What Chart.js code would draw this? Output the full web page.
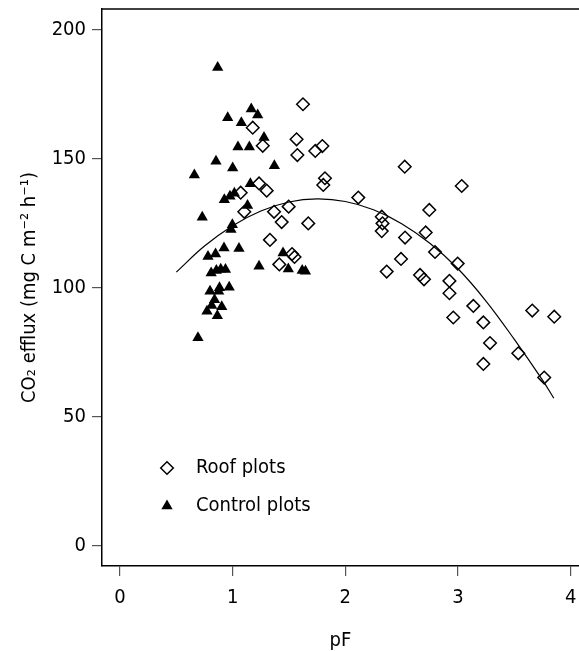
<!DOCTYPE html>
<html>
<head>
<meta charset="utf-8">
<script src="https://cdn.jsdelivr.net/npm/chart.js@4.4.1/dist/chart.umd.min.js"></script>
<style>
html,body{margin:0;padding:0;background:#fff;overflow:hidden;}
canvas{display:block;}
</style>
</head>
<body>
<canvas id="c" width="579" height="651"></canvas>
<script>
// ---- data ----
const seriesNames = ['Roof plots', 'Control plots'];
const xTitle = 'pF';
const yTitle = 'CO₂ efflux (mg C m⁻² h⁻¹)';
const xTicks = [0, 1, 2, 3, 4];
const yTicks = [0, 50, 100, 150, 200];

const roofX = [1.624, 1.178, 1.567, 1.267, 1.574, 1.733, 1.796, 2.527, 1.819, 1.804,
               3.033, 1.234, 1.071, 1.302, 2.115, 1.103, 1.367, 1.497, 1.435, 1.671,
               1.331, 1.414, 1.527, 1.549, 2.323, 2.330, 2.323, 2.745, 2.713, 2.530,
               2.796, 2.494, 2.367, 2.997, 2.663, 2.698, 2.924, 2.924, 3.136, 2.958,
               3.225, 3.659, 3.854, 3.284, 3.535, 3.225, 3.765];
const roofY = [171.2, 162.1, 157.6, 155.1, 151.5, 153.1, 155.0, 147.0, 142.5, 139.9,
               139.5, 140.5, 136.9, 137.7, 135.0, 129.5, 129.5, 131.5, 125.5, 125.0,
               118.6, 109.1, 113.1, 112.0, 127.6, 125.0, 122.0, 130.2, 121.5, 119.5,
               113.9, 111.2, 106.3, 109.4, 105.0, 103.3, 102.7, 97.9, 93.0, 88.5,
               86.6, 91.2, 88.8, 78.6, 74.6, 70.5, 65.2];

const controlX = [0.867, 1.165, 1.222, 0.956, 1.077, 1.278, 1.047, 1.148, 0.852, 1.000,
                  1.370, 0.660, 1.157, 0.926, 0.976, 1.015, 1.132, 0.730, 0.997, 0.985,
                  0.923, 1.056, 0.781, 0.848, 1.447, 1.234, 1.494, 1.617, 1.646, 0.809,
                  0.855, 0.894, 0.936, 0.799, 0.883, 0.876, 0.969, 0.839, 0.814, 0.903,
                  0.772, 0.864, 0.692];
const controlY = [185.5, 169.4, 167.0, 166.0, 164.0, 158.3, 154.6, 154.6, 149.1, 146.5,
                  147.4, 143.8, 140.4, 134.2, 135.5, 136.7, 131.9, 127.4, 124.5, 122.6,
                  115.5, 115.3, 112.2, 113.1, 113.5, 108.4, 107.3, 106.7, 106.4, 105.8,
                  106.7, 107.2, 107.1, 98.7, 100.0, 98.7, 100.2, 95.4, 93.2, 92.7,
                  90.9, 89.2, 80.6];

// fitted curve at these pF values
const fitX = [0.5, 0.75, 1.0, 1.25, 1.5, 1.75, 2.0, 2.25, 2.5, 2.75, 3.0, 3.25, 3.5, 3.75, 3.85];
const fitY = [106.1, 116.2, 124.1, 129.8, 133.3, 134.5, 133.5, 130.3, 124.9, 117.3, 107.4, 94.8, 80.0, 64.2, 57.2];

// ---- chart ----
const FONT = '"DejaVu Sans Condensed", "DejaVu Sans", sans-serif';
const pts = (xs, ys) => xs.map((x, i) => ({x: x, y: ys[i]}));
const noPad = () => ({left: 0, top: 0, right: 0, bottom: 0});

const frameAndLegend = {
  id: 'frameAndLegend',
  afterDatasetsDraw(chart) {
    const {ctx, chartArea: a} = chart;
    ctx.save();
    ctx.strokeStyle = '#000';
    ctx.lineWidth = 1.5;
    ctx.beginPath();
    ctx.moveTo(a.left, a.top);
    ctx.lineTo(a.right + 2, a.top);
    ctx.stroke();
    ctx.restore();
  },
  afterDraw(chart) {
    const ctx = chart.ctx;
    const items = [
      {ds: chart.data.datasets[1], y: 468},
      {ds: chart.data.datasets[2], y: 506}
    ];
    ctx.save();
    items.forEach(it => {
      const ds = it.ds;
      const opts = {
        pointStyle: ds.pointStyle,
        radius: ds.pointRadius,
        rotation: 0,
        borderWidth: ds.pointBorderWidth
      };
      ctx.fillStyle = ds.pointBackgroundColor;
      ctx.strokeStyle = ds.pointBorderColor;
      ctx.lineWidth = ds.pointBorderWidth;
      Chart.helpers.drawPoint(ctx, opts, 167, it.y);
      ctx.fillStyle = '#000';
      ctx.font = '20px ' + FONT;
      ctx.textAlign = 'left';
      ctx.textBaseline = 'middle';
      ctx.fillText(ds.label, 196, it.y);
    });
    ctx.restore();
  }
};

new Chart(document.getElementById('c'), {
  type: 'scatter',
  data: {
    datasets: [
      {
        label: 'fit',
        type: 'line',
        data: pts(fitX, fitY),
        borderColor: '#000',
        borderWidth: 1.2,
        pointRadius: 0,
        tension: 0.4,
        fill: false,
        order: 0
      },
      {
        label: seriesNames[0],
        data: pts(roofX, roofY),
        pointStyle: 'rectRot',
        pointRadius: 6.3,
        pointBorderWidth: 1.5,
        pointBorderColor: '#000',
        pointBackgroundColor: 'rgba(255,255,255,0)',
        order: 2
      },
      {
        label: seriesNames[1],
        data: pts(controlX, controlY),
        pointStyle: 'triangle',
        pointRadius: 6.5,
        pointBorderWidth: 0,
        pointBorderColor: '#000',
        pointBackgroundColor: '#000',
        order: 1
      }
    ]
  },
  options: {
    responsive: false,
    devicePixelRatio: 1,
    animation: false,
    layout: {autoPadding: false, padding: {top: 9, left: 0, right: 0, bottom: 0}},
    plugins: {legend: {display: false}, tooltip: {enabled: false}},
    scales: {
      x: {
        type: 'linear',
        min: -0.1598,
        max: 4.0738,
        afterBuildTicks: s => { s.ticks = xTicks.map(v => ({value: v})); },
        afterFit: s => { s.height = 85; s.paddingLeft = 0; s.paddingRight = 0; s.getPadding = noPad; },
        grid: {display: true, drawOnChartArea: false, drawTicks: true, tickLength: 10, color: '#555', lineWidth: 1.2},
        border: {display: true, color: '#000', width: 1.5},
        ticks: {font: {family: FONT, size: 20}, color: '#000', padding: 10, maxRotation: 0, autoSkip: false},
        title: {display: true, text: xTitle, font: {family: FONT, size: 20}, color: '#000', padding: {top: 0, bottom: -2}}
      },
      y: {
        type: 'linear',
        min: -7.873,
        max: 208.144,
        afterBuildTicks: s => { s.ticks = yTicks.map(v => ({value: v})); },
        afterFit: s => { s.width = 102; s.paddingTop = 0; s.paddingBottom = 0; s.getPadding = noPad; },
        grid: {display: true, drawOnChartArea: false, drawTicks: true, tickLength: 10, color: '#555', lineWidth: 1.2},
        border: {display: true, color: '#000', width: 1.5},
        ticks: {font: {family: FONT, size: 20}, color: '#000', padding: 6, autoSkip: false},
        title: {display: true, text: yTitle, font: {family: FONT, size: 20}, color: '#000', padding: {top: 18, bottom: 0}}
      }
    }
  },
  plugins: [frameAndLegend]
});
</script>
</body>
</html>
